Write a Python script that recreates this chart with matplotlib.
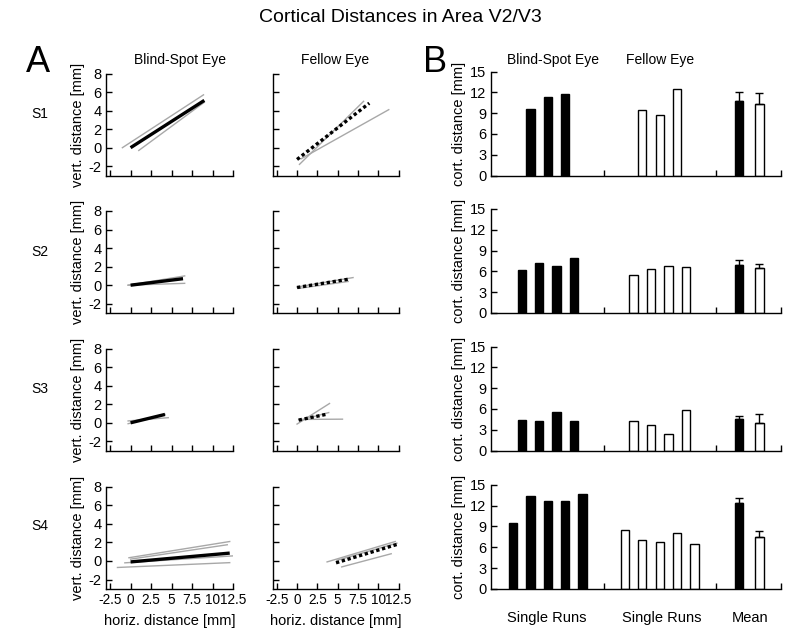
import matplotlib
matplotlib.use('Agg')
import matplotlib.pyplot as plt
import numpy as np

plt.rcParams['font.family'] = ['Liberation Sans', 'DejaVu Sans']
plt.rcParams['axes.unicode_minus'] = False

subjects = ['S1', 'S2', 'S3', 'S4']

# ---- Panel A: fitted lines [x0, y0, x1, y1] in mm ----
blind_mean_lines = [
    [0.0, 0.0, 9.0, 5.1],
    [0.0, 0.0, 6.4, 0.7],
    [0.0, 0.0, 4.2, 0.9],
    [0.0, -0.1, 12.1, 0.85],
]
blind_run_lines = [
    [[-1.0, 0.0, 8.9, 5.7], [1.0, -0.3, 9.0, 4.9]],
    [[-0.3, 0.0, 6.6, 1.0], [-0.3, 0.0, 6.6, 0.2]],
    [[-0.3, 0.2, 4.6, 0.55], [-0.3, -0.1, 4.2, 0.9]],
    [[-0.2, 0.35, 12.1, 2.1], [0.0, 0.2, 11.8, 1.75],
     [-0.7, -0.2, 12.5, 0.55], [-1.6, -0.7, 12.1, -0.18]],
]
fellow_mean_lines = [
    [0.0, -1.27, 8.9, 4.8],
    [0.0, -0.25, 6.3, 0.64],
    [0.2, 0.29, 3.7, 0.93],
    [4.8, -0.2, 12.3, 1.78],
]
fellow_run_lines = [
    [[0.3, -1.8, 8.2, 5.0], [0.5, -1.2, 11.3, 4.1]],
    [[0.0, -0.2, 6.9, 0.82], [0.2, -0.35, 6.3, 0.4]],
    [[0.0, -0.14, 4.0, 2.08], [0.2, 0.36, 5.6, 0.39], [0.3, 0.25, 3.9, 1.1]],
    [[3.7, -0.1, 12.1, 2.1], [4.9, 0.07, 12.3, 1.92], [5.5, -0.64, 11.6, 0.78]],
]

# ---- Panel B: cortical distances [mm] ----
blind_runs = [[9.6, 11.3, 11.8],
              [6.2, 7.25, 6.8, 7.9],
              [4.35, 4.25, 5.5, 4.25],
              [9.5, 13.4, 12.6, 12.7, 13.65]]
fellow_runs = [[9.4, 8.7, 12.5],
               [5.5, 6.4, 6.8, 6.6],
               [4.2, 3.75, 2.45, 5.8],
               [8.5, 7.05, 6.75, 8.1, 6.5]]
blind_mean = [10.7, 6.9, 4.6, 12.4]
blind_err = [1.3, 0.8, 0.4, 0.7]
fellow_mean = [10.3, 6.5, 4.0, 7.4]
fellow_err = [1.6, 0.55, 1.35, 1.0]

x_ticks_A = [-2.5, 0, 2.5, 5, 7.5, 10, 12.5]
x_ticklabels_A = ['-2.5', '0', '2.5', '5', '7.5', '10', '12.5']
y_ticks_A = [-2, 0, 2, 4, 6, 8]
y_ticks_B = [0, 3, 6, 9, 12, 15]

W, H = 800, 640
fig = plt.figure(figsize=(8, 6.4), dpi=100)

row_bottoms_px = [175.5, 313, 450.6, 588.8]
hA = 102 / H
hB = 104 / H

gray = '#a8a8a8'

def style(ax):
    for s in ['top', 'right']:
        ax.spines[s].set_visible(False)
    for s in ['left', 'bottom']:
        ax.spines[s].set_linewidth(1.0)
    ax.tick_params(direction='in', length=4, width=1.0, pad=3)
    ax.tick_params(axis='y', labelsize=10.5)
    ax.tick_params(axis='x', labelsize=9.8)

def seg(ax, s, **kw):
    ax.plot([s[0], s[2]], [s[1], s[3]], **kw)

for i, subj in enumerate(subjects):
    b = 1 - row_bottoms_px[i] / H
    ax1 = fig.add_axes([106 / W, b, 127 / W, hA])
    ax2 = fig.add_axes([272.7 / W, b, 125.8 / W, hA])
    for ax in (ax1, ax2):
        ax.set_xlim(-3, 12.5)
        ax.set_ylim(-3, 8)
        ax.set_xticks(x_ticks_A)
        ax.set_yticks(y_ticks_A)
        style(ax)
        if i == 3:
            ax.set_xticklabels(x_ticklabels_A)
            ax.set_xlabel('horiz. distance [mm]', fontsize=10.5, labelpad=5)
        else:
            ax.set_xticklabels([])
    ax2.set_yticklabels([])
    ax1.set_ylabel('vert. distance [mm]', fontsize=10.5, labelpad=3)
    for s in blind_run_lines[i]:
        seg(ax1, s, color=gray, lw=1.0, zorder=2)
    seg(ax1, blind_mean_lines[i], color='black', lw=2.4, solid_capstyle='butt', zorder=3)
    for s in fellow_run_lines[i]:
        seg(ax2, s, color=gray, lw=1.0, zorder=2)
    seg(ax2, fellow_mean_lines[i], color='black', lw=2.4, linestyle=(0, (1, 0.8)), zorder=3)

    axb = fig.add_axes([490.7 / W, b, 290.3 / W, hB])
    axb.set_xlim(0, 16.68)
    axb.set_ylim(0, 15)
    axb.set_yticks(y_ticks_B)
    axb.set_xticks([6.51, 12.93, 16.68])
    axb.set_xticklabels([])
    style(axb)
    axb.set_ylabel('cort. distance [mm]', fontsize=10.5, labelpad=3)
    bw = 0.48
    nb = len(blind_runs[i])
    xb = 3.28 + np.arange(nb) - (nb - 1) / 2
    axb.bar(xb, blind_runs[i], width=bw, color='black', edgecolor='black', lw=1.0)
    nf = len(fellow_runs[i])
    xf = 9.71 + np.arange(nf) - (nf - 1) / 2
    axb.bar(xf, fellow_runs[i], width=bw, color='white', edgecolor='black', lw=1.0)
    axb.bar([14.27], [blind_mean[i]], width=bw, color='black', edgecolor='black', lw=1.0,
            yerr=[[0], [blind_err[i]]], capsize=3, error_kw=dict(elinewidth=1.0, capthick=1.0))
    axb.bar([15.44], [fellow_mean[i]], width=bw, color='white', edgecolor='black', lw=1.0,
            yerr=[[0], [fellow_err[i]]], capsize=3, error_kw=dict(elinewidth=1.0, capthick=1.0))

    fig.text(40 / W, 1 - (114 + i * 137.5) / H, subj, fontsize=10, ha='center', va='center')

fig.text(0.5, 1 - 18 / H, 'Cortical Distances in Area V2/V3', fontsize=14, ha='center', va='center')
fig.text(38 / W, 1 - 62 / H, 'A', fontsize=26, ha='center', va='center')
fig.text(435 / W, 1 - 62 / H, 'B', fontsize=26, ha='center', va='center')
fig.text(180 / W, 1 - 60 / H, 'Blind-Spot Eye', fontsize=10, ha='center', va='center')
fig.text(335 / W, 1 - 60 / H, 'Fellow Eye', fontsize=10, ha='center', va='center')
fig.text(553 / W, 1 - 60 / H, 'Blind-Spot Eye', fontsize=10, ha='center', va='center')
fig.text(660 / W, 1 - 60 / H, 'Fellow Eye', fontsize=10, ha='center', va='center')
fig.text(547 / W, 1 - 618 / H, 'Single Runs', fontsize=10.5, ha='center', va='center')
fig.text(662 / W, 1 - 618 / H, 'Single Runs', fontsize=10.5, ha='center', va='center')
fig.text(750 / W, 1 - 618 / H, 'Mean', fontsize=10.5, ha='center', va='center')

fig.savefig('out.png', dpi=100)
